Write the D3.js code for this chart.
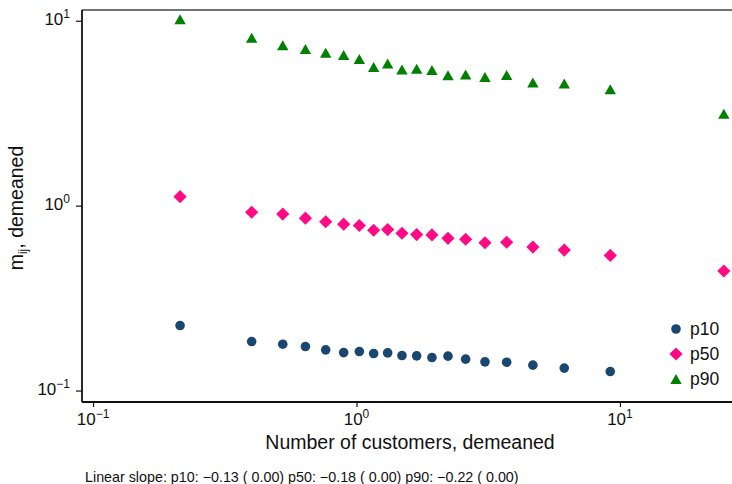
<!DOCTYPE html>
<html>
<head>
<meta charset="utf-8">
<script src="https://cdn.jsdelivr.net/npm/d3@7"></script>
<style>
  html, body { margin: 0; padding: 0; background: #fff; }
  svg { display: block; font-family: "Liberation Sans", Arial, Helvetica, sans-serif; }
</style>
</head>
<body>
<svg id="chart" width="732" height="484"></svg>
<script>
// Number of customers (demeaned), one value per bin
const customers = [0.214, 0.400, 0.525, 0.640, 0.764, 0.894, 1.025, 1.162, 1.313, 1.488,
                   1.692, 1.934, 2.225, 2.596, 3.074, 3.715, 4.673, 6.147, 9.19, 24.8];
// Percentiles of m_ij (demeaned) in each bin
const p10 = [0.2246, 0.1840, 0.1781, 0.1729, 0.1660, 0.1604, 0.1625, 0.1585, 0.1598, 0.1546,
             0.1540, 0.1508, 0.1535, 0.1478, 0.1429, 0.1423, 0.1372, 0.1322, 0.1267, null];
const p50 = [1.118, 0.921, 0.900, 0.855, 0.818, 0.794, 0.781, 0.736, 0.742, 0.709,
             0.697, 0.694, 0.666, 0.658, 0.630, 0.634, 0.597, 0.575, 0.538, 0.443];
const p90 = [10.2, 8.09, 7.37, 7.03, 6.71, 6.53, 6.21, 5.62, 5.88, 5.44,
             5.50, 5.41, 5.07, 5.12, 4.96, 5.08, 4.63, 4.57, 4.26, 3.14];
const seriesNames = ["p10", "p50", "p90"];
const seriesColors = ["#1a476f", "#ff0a84", "#008000"];
const tickValues = [0.1, 1, 10];
const tickExponents = ["\u22121", "0", "1"];
const xTitle = "Number of customers, demeaned";
const note = "Linear slope: p10: \u22120.13 ( 0.00) p50: \u22120.18 ( 0.00) p90: \u22120.22 ( 0.00)";

const svg = d3.select("#chart");
const plotLeft = 82, plotRight = 734, plotTop = 10, plotBottom = 402;

const x = d3.scaleLog().domain([0.0908, 27.1]).range([plotLeft, plotRight]);
const y = d3.scaleLog().domain([0.0867, 11.43]).range([plotBottom, plotTop]);

// plot region frame (top edge)
svg.append("line").attr("x1", plotLeft).attr("x2", plotRight).attr("y1", plotTop).attr("y2", plotTop)
  .attr("stroke", "#444").attr("stroke-width", 1.4);

// axes
const xAxis = d3.axisBottom(x).tickValues(tickValues).tickSize(5).tickFormat(() => "");
const yAxis = d3.axisLeft(y).tickValues(tickValues).tickSize(6).tickFormat(() => "");
const gx = svg.append("g").attr("transform", `translate(0,${plotBottom})`).call(xAxis);
const gy = svg.append("g").attr("transform", `translate(${plotLeft},0)`).call(yAxis);
gx.select(".domain").attr("d", `M${plotLeft},0H${plotRight}`);
gy.select(".domain").attr("d", `M0,${plotBottom}V${plotTop}`);
[gx, gy].forEach(g => {
  g.select(".domain").attr("stroke", "#111").attr("stroke-width", 1.8);
  g.selectAll(".tick line").attr("stroke", "#111").attr("stroke-width", 1.2);
});

// power-of-ten tick labels
function powerLabel(sel, exp) {
  sel.append("tspan").text("10");
  sel.append("tspan").attr("dy", -7).attr("font-size", 12).text(exp);
}
tickValues.forEach((v, i) => {
  const tx = svg.append("text").attr("x", x(v)).attr("y", 425)
    .attr("text-anchor", "middle").attr("font-size", 17).attr("fill", "#111");
  powerLabel(tx, tickExponents[i]);
  const ty = svg.append("text").attr("x", 70).attr("y", y(v) + 4.5)
    .attr("text-anchor", "end").attr("font-size", 17).attr("fill", "#111");
  powerLabel(ty, tickExponents[i]);
});

// axis titles
svg.append("text").attr("x", (plotLeft + 732) / 2 + 3).attr("y", 449)
  .attr("text-anchor", "middle").attr("font-size", 19.5).attr("fill", "#111").text(xTitle);
const yt = svg.append("text").attr("transform", `translate(23,${(plotTop + plotBottom) / 2 + 2}) rotate(-90)`)
  .attr("text-anchor", "middle").attr("font-size", 19.5).attr("fill", "#111");
yt.append("tspan").text("m");
yt.append("tspan").attr("dy", 4).attr("font-size", 12).text("ij");
yt.append("tspan").attr("dy", -4).text(", demeaned");

// marker shapes
const shapes = {
  p10: () => d3.symbol().type(d3.symbolCircle).size(Math.PI * 4.8 * 4.8)(),
  p50: () => "M0,-6.6L6.6,0L0,6.6L-6.6,0Z",
  p90: () => "M0,-5L5.7,5L-5.7,5Z"
};

const seriesValues = [p10, p50, p90];
seriesNames.forEach((name, si) => {
  const pts = customers.map((c, i) => ({ x: c, y: seriesValues[si][i] })).filter(d => d.y != null);
  svg.append("g").selectAll("path").data(pts).join("path")
    .attr("d", shapes[name]())
    .attr("transform", d => `translate(${x(d.x)},${y(d.y)})`)
    .attr("fill", seriesColors[si]);
});

// legend
seriesNames.forEach((name, si) => {
  const ly = 329 + si * 25;
  svg.append("path").attr("d", shapes[name]()).attr("transform", `translate(676,${ly})`)
    .attr("fill", seriesColors[si]);
  svg.append("text").attr("x", 690).attr("y", ly + 6).attr("font-size", 17.5)
    .attr("fill", "#111").text(name);
});

// note
svg.append("text").attr("x", 85).attr("y", 482).attr("font-size", 14.3)
  .attr("fill", "#111").text(note);
</script>
</body>
</html>
